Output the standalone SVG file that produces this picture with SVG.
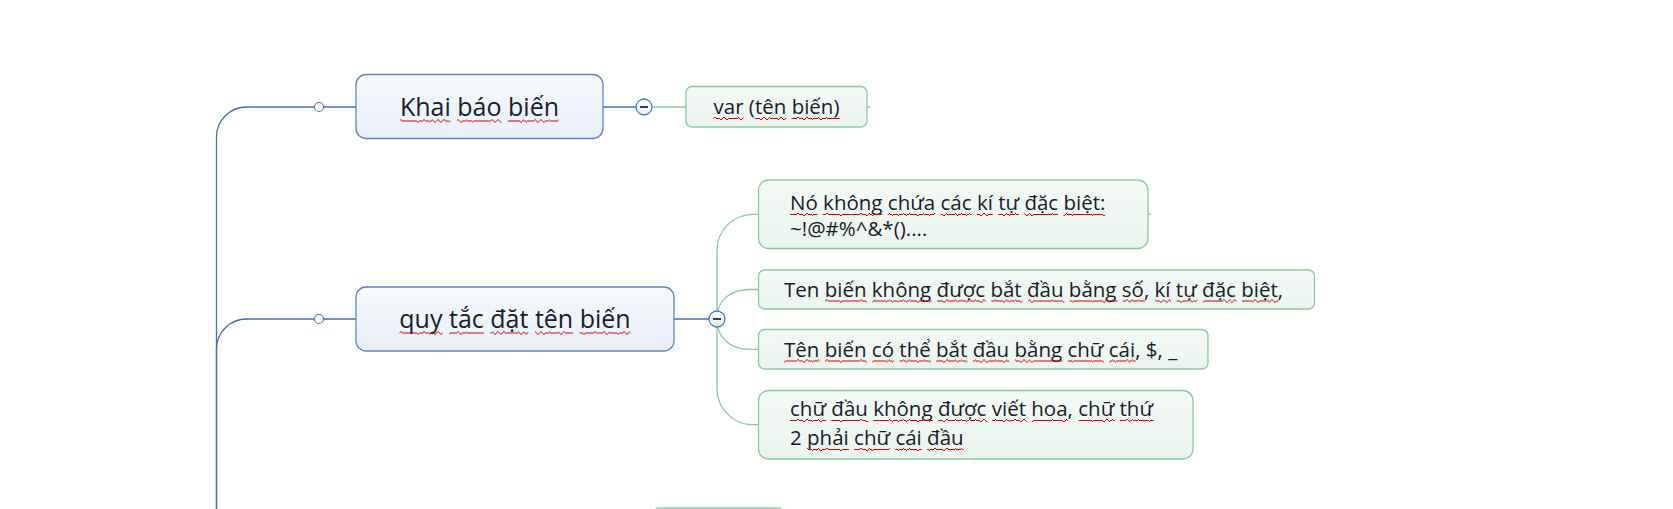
<svg xmlns="http://www.w3.org/2000/svg" width="1673" height="509" viewBox="0 0 1673 509">
<defs>
<linearGradient id="gBlue" x1="0" y1="0" x2="0" y2="1"><stop offset="0" stop-color="#F6F9FD"/><stop offset="1" stop-color="#E9F0F9"/></linearGradient>
<linearGradient id="gGreen" x1="0" y1="0" x2="0" y2="1"><stop offset="0" stop-color="#F4FAF6"/><stop offset="1" stop-color="#EAF4EE"/></linearGradient>
<linearGradient id="gBtn" x1="0" y1="0" x2="0" y2="1"><stop offset="0" stop-color="#FFFFFF"/><stop offset="1" stop-color="#E6EEF8"/></linearGradient>
<filter id="wavy" filterUnits="userSpaceOnUse" x="0" y="0" width="1673" height="509" color-interpolation-filters="sRGB">
<feTurbulence type="fractalNoise" baseFrequency="0.35 0.0001" numOctaves="1" seed="3" result="n"/>
<feColorMatrix in="n" type="matrix" values="1 0 0 0 0  0 0 0 0 0.5  0 0 0 0 0  0 0 0 0 1" result="m"/>
<feDisplacementMap in="SourceGraphic" in2="m" scale="5" xChannelSelector="G" yChannelSelector="R"/>
</filter>
</defs>
<style>
.bl{fill:none;stroke:#3F72B5;stroke-width:1.3}
.gl{fill:none;stroke:#8ACB9C;stroke-width:1.3}
.mainbox{fill:url(#gBlue);stroke:#5A86C3;stroke-width:1.3}
.subbox{fill:url(#gGreen);stroke:#8ACB9C;stroke-width:1.3}
.knob{fill:#fff;stroke:#4A7CC0;stroke-width:1.2}
.btn{fill:url(#gBtn);stroke:#4A7CC0;stroke-width:1.3}
.minus{stroke:#111;stroke-width:1.6}
text{font-family:"Open Sans","Noto Sans","DejaVu Sans",sans-serif;fill:#17202A}
.t1{font-size:25px}
.t2{font-size:20.5px}
.sq{fill:none;stroke:#E00000;stroke-width:1.1;filter:url(#wavy)}
</style>
<g id="connectors">
<path class="bl" d="M216.5,509 V137 A30,30 0 0 1 246.5,107 H356"/>
<path class="bl" d="M216.5,509 V349 A30,30 0 0 1 246.5,319 H356"/>
<path class="bl" d="M603,107 H636"/>
<path class="gl" d="M652,107 H686"/>
<path class="gl" d="M867,107 H870"/>
<path class="bl" d="M674,319 H709"/>
<path class="gl" d="M717,319 V250.3 A36,36 0 0 1 753,214.3 H759"/>
<path class="gl" d="M717,319 C717,300 730,289.5 750,289.5 H759"/>
<path class="gl" d="M717,319 C717,338 730,349.4 750,349.4 H759"/>
<path class="gl" d="M717,319 V388.7 A36,36 0 0 0 753,424.7 H759"/>
<path class="gl" d="M1148,214 H1151"/>
<circle class="knob" cx="319" cy="107" r="4.5"/>
<circle class="knob" cx="319" cy="319" r="4.5"/>
<circle class="btn" cx="644" cy="107" r="8"/>
<line class="minus" x1="640" y1="107" x2="648" y2="107"/>
<circle class="btn" cx="717" cy="319" r="8"/>
<line class="minus" x1="713" y1="319" x2="721" y2="319"/>
</g>
<g id="node-khai-bao-bien">
<rect class="mainbox" x="356" y="74.5" width="247" height="64" rx="10"/>
<text class="t1" x="479.5" y="116" text-anchor="middle"><tspan>Khai</tspan> <tspan>báo</tspan> <tspan>biến</tspan></text>
<path class="sq" d="M400.2,121 H450.5 M457,121 H501.3 M507.8,121 H558.8"/>
</g>
<g id="node-var">
<rect class="subbox" x="686" y="86.5" width="181" height="40.5" rx="6"/>
<text class="t2" x="776.5" y="114" text-anchor="middle"><tspan>var</tspan> <tspan>(tên</tspan> <tspan>biến)</tspan></text>
<path class="sq" d="M713.5,118.5 H743.5 M754.9,118.5 H786.2 M791.6,118.5 H839.5"/>
</g>
<g id="node-quy-tac">
<rect class="mainbox" x="356" y="287" width="318" height="64" rx="10"/>
<text class="t1" x="515" y="328" text-anchor="middle"><tspan>quy</tspan> <tspan>tắc</tspan> <tspan>đặt</tspan> <tspan>tên</tspan> <tspan>biến</tspan></text>
<path class="sq" d="M399.5,333 H442.7 M449.2,333 H483.8 M490.3,333 H528.4 M534.9,333 H573.1 M579.6,333 H630.6"/>
</g>
<g id="node-rule-1">
<rect class="subbox" x="758.5" y="180" width="389.5" height="68.5" rx="10"/>
<text class="t2" x="790" y="210"><tspan>Nó</tspan> <tspan>không</tspan> <tspan>chứa</tspan> <tspan>các</tspan> <tspan>kí</tspan> <tspan>tự</tspan> <tspan>đặc</tspan> <tspan>biệt:</tspan></text>
<text class="t2" x="790" y="236"><tspan>~!@#%^&amp;*()....</tspan></text>
<path class="sq" d="M790,214.5 H817.6 M822.9,214.5 H882.4 M887.8,214.5 H935.2 M940.6,214.5 H971.5 M976.8,214.5 H992.8 M998.1,214.5 H1019 M1024.4,214.5 H1058.1 M1063.4,214.5 H1105.4"/>
</g>
<g id="node-rule-2">
<rect class="subbox" x="758.5" y="270" width="556" height="39" rx="6"/>
<text class="t2" x="784" y="296.5"><tspan>Ten</tspan> <tspan>biến</tspan> <tspan>không</tspan> <tspan>được</tspan> <tspan>bắt</tspan> <tspan>đầu</tspan> <tspan>bằng</tspan> <tspan>số,</tspan> <tspan>kí</tspan> <tspan>tự</tspan> <tspan>đặc</tspan> <tspan>biệt,</tspan></text>
<path class="sq" d="M825,301 H866.9 M872.2,301 H931.7 M937.1,301 H986 M991.3,301 H1022.5 M1027.9,301 H1064.4 M1069.7,301 H1117.5 M1122.9,301 H1145 M1155.3,301 H1171.3 M1176.6,301 H1197.5 M1202.9,301 H1236.6 M1241.9,301 H1278.4"/>
</g>
<g id="node-rule-3">
<rect class="subbox" x="758.5" y="329.5" width="449.5" height="39.5" rx="6"/>
<text class="t2" x="784" y="356.5"><tspan>Tên</tspan> <tspan>biến</tspan> <tspan>có</tspan> <tspan>thể</tspan> <tspan>bắt</tspan> <tspan>đầu</tspan> <tspan>bằng</tspan> <tspan>chữ</tspan> <tspan>cái,</tspan> <tspan>$,</tspan> <tspan>_</tspan></text>
<path class="sq" d="M784,361 H819.7 M825,361 H866.9 M872.2,361 H894.3 M899.7,361 H931 M936.3,361 H967.5 M972.8,361 H1009.4 M1014.7,361 H1062.5 M1067.8,361 H1103.9 M1109.2,361 H1135.6"/>
</g>
<g id="node-rule-4">
<rect class="subbox" x="758.5" y="390.5" width="434.5" height="68.5" rx="10"/>
<text class="t2" x="790" y="416"><tspan>chữ</tspan> <tspan>đầu</tspan> <tspan>không</tspan> <tspan>được</tspan> <tspan>viết</tspan> <tspan>hoa,</tspan> <tspan>chữ</tspan> <tspan>thứ</tspan></text>
<text class="t2" x="790" y="445"><tspan>2</tspan> <tspan>phải</tspan> <tspan>chữ</tspan> <tspan>cái</tspan> <tspan>đầu</tspan></text>
<path class="sq" d="M790,420.5 H826.1 M831.4,420.5 H867.9 M873.3,420.5 H932.8 M938.1,420.5 H987.1 M992.4,420.5 H1026.6 M1031.9,420.5 H1068.3 M1078.6,420.5 H1114.7 M1120,420.5 H1153.5 M807.1,449.5 H848.8 M854.1,449.5 H890.2 M895.5,449.5 H921.9 M927.2,449.5 H963.7"/>
</g>
<g id="node-partial">
<rect class="subbox" x="653" y="508" width="131" height="40" rx="6"/>
</g>
</svg>
